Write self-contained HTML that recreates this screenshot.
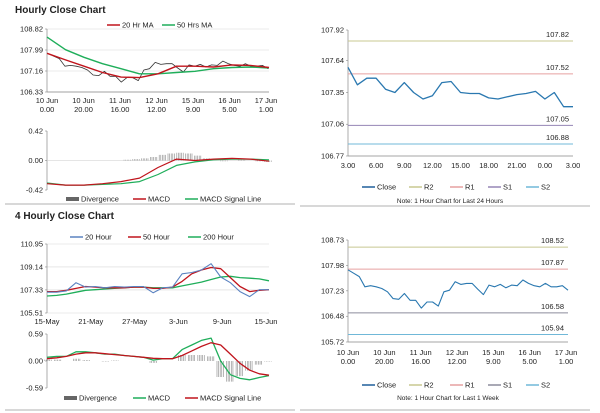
<!DOCTYPE html>
<html><head><meta charset="utf-8"><style>
body{margin:0;background:#fff;}
svg{display:block;font-family:"Liberation Sans",sans-serif;}
text{fill:#222;font-size:7.5px;}
</style></head><body>
<svg id="c" width="600" height="413" viewBox="0 0 600 413"></svg>
<script>
// ---- data ----
const hourlyLabels1=["10 Jun|0.00","10 Jun|20.00","11 Jun|16.00","12 Jun|12.00","15 Jun|9.00","16 Jun|5.00","17 Jun|1.00"];
const weekClose=[107.85,107.75,107.65,107.35,107.38,107.35,107.3,107.2,107.0,106.98,107.15,106.95,106.95,106.72,106.9,106.9,106.78,107.2,107.25,107.5,107.42,107.45,107.45,107.28,107.12,107.4,107.35,107.42,107.32,107.4,107.38,107.55,107.45,107.38,107.35,107.45,107.35,107.35,107.38,107.25];
const ma20h=[107.86,107.6,107.35,107.1,106.92,106.9,107.05,107.35,107.35,107.32,107.4,107.38,107.3];
const ma50h=[108.5,108.0,107.7,107.45,107.25,107.05,107.05,107.1,107.15,107.25,107.3,107.32,107.28];
const macd1=[-0.33,-0.35,-0.35,-0.33,-0.3,-0.25,-0.1,0.02,0.0,0.02,0.03,0.02,-0.01];
const signal1=[-0.32,-0.35,-0.35,-0.34,-0.33,-0.3,-0.2,-0.07,-0.02,0.01,0.02,0.02,0.01];
const div1=[0,0,0,0,0,0,0,0,0,0.01,0.02,0.03,0.05,0.08,0.1,0.11,0.1,0.07,0.03,0,-0.01,0,0.01,0,-0.01,-0.02];
const dayClose=[107.58,107.42,107.48,107.48,107.38,107.35,107.44,107.35,107.29,107.32,107.44,107.45,107.35,107.34,107.34,107.3,107.29,107.31,107.33,107.34,107.36,107.29,107.35,107.22,107.22];
const dayLabels=["3.00","6.00","9.00","12.00","15.00","18.00","21.00","0.00","3.00"];
const levelsDay=[107.82,107.52,107.05,106.88];
const levelsWeek=[108.52,107.87,106.58,105.94];
const fourLabels=["15-May","21-May","27-May","3-Jun","9-Jun","15-Jun"];
const close4=[107.15,107.15,107.25,107.9,107.55,107.6,107.5,107.6,107.55,107.6,107.6,107.1,107.5,107.55,108.6,108.7,108.9,109.4,108.35,107.9,107.2,106.8,107.35,107.35];
const ma50_4=[107.2,107.2,107.3,107.45,107.6,107.55,107.5,107.5,107.5,107.55,107.55,107.45,107.45,107.55,108.0,108.6,108.9,109.1,109.0,108.3,107.6,107.2,107.3,107.35];
const ma200_4=[106.85,106.9,107.0,107.15,107.3,107.35,107.4,107.45,107.5,107.55,107.55,107.5,107.5,107.5,107.65,107.8,107.95,108.15,108.35,108.4,108.3,108.25,108.2,108.05];
const macd4=[0.08,0.1,0.1,0.2,0.2,0.18,0.15,0.15,0.12,0.1,0.08,0.02,0.05,0.05,0.25,0.35,0.45,0.5,0.0,-0.3,-0.38,-0.41,-0.36,-0.32];
const signal4=[0.05,0.07,0.1,0.15,0.18,0.18,0.16,0.14,0.12,0.1,0.08,0.06,0.05,0.05,0.12,0.22,0.32,0.4,0.35,0.15,-0.05,-0.2,-0.28,-0.31];
const div4=[0.03,0.03,0,0.05,0.02,0,-0.01,0.01,0,0,0,-0.04,0,0,0.13,0.13,0.13,0.1,-0.35,-0.45,-0.33,-0.21,-0.08,-0.01];
// ---- drawing ----
const svg=document.getElementById('c');const NS='http://www.w3.org/2000/svg';
function mk(tag,attrs,parent){const e=document.createElementNS(NS,tag);for(const k in attrs)e.setAttribute(k,attrs[k]);(parent||svg).appendChild(e);return e;}
function txt(x,y,s,anchor,extra){const t=mk('text',Object.assign({x:x,y:y,'text-anchor':anchor||'start'},extra||{}));t.textContent=s;return t;}
function scale(d0,d1,r0,r1){return v=>r0+(v-d0)*(r1-r0)/(d1-d0);}
function axesBox(x0,x1,y0,y1,ticks,yfn,grid,name){
  const g=mk('g',{});
  
  
  ticks.forEach(t=>{const y=yfn(t);
    if(grid)mk('line',{x1:x0,x2:x1,y1:y,y2:y,stroke:'#d8d8d8','stroke-width':0.6},g);
    mk('line',{x1:x0-2,x2:x0,y1:y,y2:y,stroke:'#888','stroke-width':0.6},g);
    const t2=txt(x0-4,y+2.5,t.toFixed(2),'end');g.appendChild(t2);});
  mk('line',{x1:x0,x2:x0,y1:y0,y2:y1,stroke:'#888','stroke-width':0.7},g);
  return g;}
function series(vals,x0,x1,yfn,color,w,name){
  const n=vals.length;const xs=scale(0,n-1,x0,x1);
  const p=mk('polyline',{points:vals.map((v,i)=>xs(i).toFixed(1)+','+yfn(v).toFixed(1)).join(' '),fill:'none',stroke:color,'stroke-width':w,'stroke-linejoin':'round'});
  
  }
function bars(vals,x0,x1,yfn,name){
  const n=vals.length;const xs=scale(0,n-1,x0,x1);const g=mk('g',{});
  
  
  vals.forEach((v,i)=>{for(let k=-2;k<=2;k++){const x=xs(i)+k*1.6;const a=yfn(0),b=yfn(v);
    mk('line',{x1:x,x2:x,y1:a,y2:b,stroke:'#888','stroke-width':0.6},g);}});}
function legend(items,y,name){
  const g=mk('g',{});
  
  
  items.forEach(it=>{
    mk('line',{x1:it[0],x2:it[0]+13,y1:y,y2:y,stroke:it[2],'stroke-width':it[3]||1.5},g);
    g.appendChild(txt(it[0]+15,y+2.5,it[1]));});}
function hline(v,x0,x1,yfn,color,label,name){
  const y=yfn(v);const l=mk('line',{x1:x0,x2:x1,y1:y,y2:y,stroke:color,'stroke-width':1});
  
  
  txt(x1-4,y-4,v.toFixed(2),'end');}
function xlabels(labels,x0,x1,y){labels.forEach((s,i)=>{const x=x0+(x1-x0)*i/(labels.length-1);const parts=s.split('|');
  parts.forEach((p,j)=>txt(x,y+j*9,p,'middle'));});}

// titles
const t1=txt(15,13,'Hourly Close Chart','start',{style:'font-size:10px;font-weight:bold'});

const t2=txt(15,219,'4 Hourly Close Chart','start',{style:'font-size:10px;font-weight:bold'});

// dividers
mk('line',{x1:5,x2:295,y1:204,y2:204,stroke:'#999','stroke-width':0.8});
mk('line',{x1:300,x2:590,y1:206,y2:206,stroke:'#999','stroke-width':0.8});
mk('line',{x1:5,x2:295,y1:410,y2:410,stroke:'#999','stroke-width':0.8});
mk('line',{x1:300,x2:590,y1:410,y2:410,stroke:'#999','stroke-width':0.8});

// Panel 1 price
let y=scale(106.33,108.82,92,29);
axesBox(47,269,29,92,[108.82,107.99,107.16,106.33],y,true,'hourly-price-axes');
mk('line',{x1:47,x2:269,y1:92,y2:92,stroke:'#888','stroke-width':0.7});
series(weekClose,48,268,y,'#333',0.8,'hourly-close-line');
series(ma50h,47,269,y,'#1fae5a',1.4,'ma50-line');
series(ma20h,47,269,y,'#c0141c',1.4,'ma20-line');
legend([[107,'20 Hr MA','#c0141c'],[162,'50 Hrs MA','#1fae5a']],25,'hourly-legend');
xlabels(hourlyLabels1,47,266,103);
// Panel 1 MACD
y=scale(-0.42,0.42,190,131);
axesBox(47,269,131,190,[0.42,0,-0.42],y,false,'hourly-macd-axes');
mk('line',{x1:47,x2:269,y1:y(0),y2:y(0),stroke:'#ccc','stroke-width':0.6});
bars(div1,48,268,y,'hourly-divergence-bars');
series(signal1,47,269,y,'#1fae5a',1.2,'hourly-signal-line');
series(macd1,47,269,y,'#c0141c',1.2,'hourly-macd-line');
legend([[66,'Divergence','#666',4],[133,'MACD','#c0141c'],[185,'MACD Signal Line','#1fae5a']],199,'hourly-macd-legend');

// Panel 2 day
y=scale(106.77,107.92,156,30);
axesBox(348,573,30,156,[107.92,107.64,107.35,107.06,106.77],y,false,'day-axes');
mk('line',{x1:348,x2:573,y1:156,y2:156,stroke:'#888','stroke-width':0.7});
const lc=['#c8c890','#e6a0a0','#9585b5','#70b8d8'],ln=['r2','r1','s1','s2'];
levelsDay.forEach((v,i)=>hline(v,348,573,y,lc[i],v,'day-'+ln[i]+'-line'));
series(dayClose,348,573,y,'#2a78b0',1.3,'day-close-line');
xlabels(dayLabels,348,573,168);
legend([[362,'Close','#1f5f9a'],[409,'R2',lc[0]],[450,'R1',lc[1]],[488,'S1',lc[2]],[526,'S2',lc[3]]],187,'day-legend');
txt(450,203,'Note: 1 Hour Chart for Last 24 Hours','middle',{style:'font-size:6.5px'});

// Panel 3 4-hourly
y=scale(105.51,110.95,313,244);
axesBox(47,269,244,313,[110.95,109.14,107.33,105.51],y,true,'four-price-axes');
series(ma200_4,47,269,y,'#1fae5a',1.3,'ma200-line');
series(ma50_4,47,269,y,'#c0141c',1.3,'ma50-4h-line');
series(close4,47,269,y,'#5a82c0',1.1,'close-4h-line');
legend([[70,'20 Hour','#5a82c0'],[128,'50 Hour','#c0141c'],[188,'200 Hour','#1fae5a']],237,'four-legend');
xlabels(fourLabels,47,266,324);
y=scale(-0.59,0.59,388,334);
axesBox(47,269,334,388,[0.59,0,-0.59],y,false,'four-macd-axes');
bars(div4,48,268,y,'four-divergence-bars');
series(macd4,47,269,y,'#1fae5a',1.3,'four-macd-line');
series(signal4,47,269,y,'#c0141c',1.3,'four-signal-line');
legend([[64,'Divergence','#666',4],[133,'MACD','#1fae5a'],[185,'MACD Signal Line','#c0141c']],398,'four-macd-legend');

// Panel 4 week
y=scale(105.72,108.73,342,240);
axesBox(348,568,240,342,[108.73,107.98,107.23,106.48,105.72],y,false,'week-axes');
mk('line',{x1:348,x2:568,y1:342,y2:342,stroke:'#888','stroke-width':0.7});
const lc2=['#c8c890','#e6a0a0','#8c8c9c','#70b8d8'];
levelsWeek.forEach((v,i)=>hline(v,348,568,y,lc2[i],v,'week-'+ln[i]+'-line'));
series(weekClose,348,568,y,'#2a78b0',1.1,'week-close-line');
xlabels(hourlyLabels1,348,566,355);
legend([[362,'Close','#1f5f9a'],[409,'R2',lc2[0]],[450,'R1',lc2[1]],[488,'S1',lc2[2]],[526,'S2',lc2[3]]],385,'week-legend');
txt(448,400,'Note: 1 Hour Chart for Last 1 Week','middle',{style:'font-size:6.5px'});
</script>
</body></html>
